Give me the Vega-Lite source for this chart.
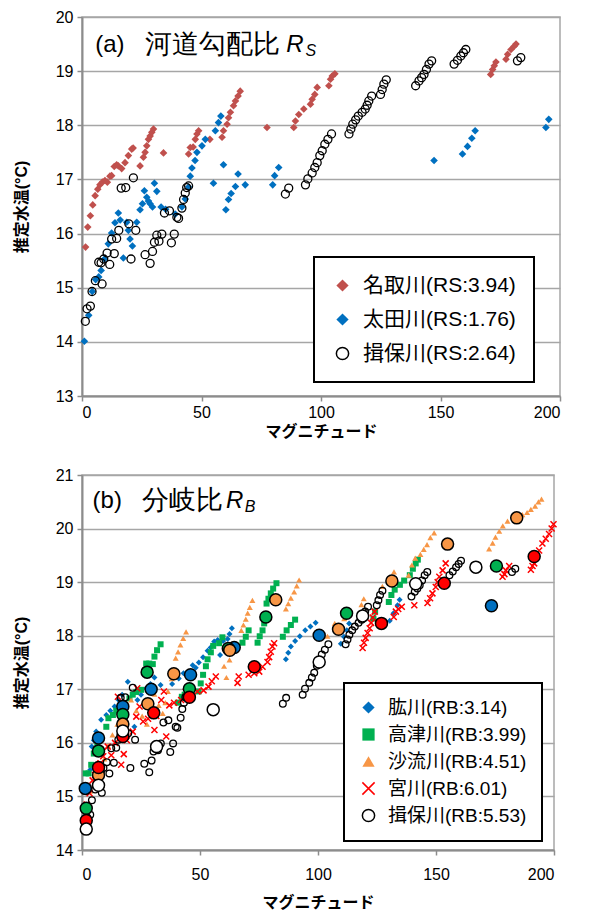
{
  "$schema": "https://vega.github.io/schema/vega-lite/v6.json",
  "padding": {"left": 12, "top": 8, "right": 10, "bottom": 0},
  "spacing": 26,
  "config": {
    "view": {"stroke": "#A6A6A6", "strokeWidth": 1.5},
    "axis": {
      "labelFont": "Liberation Sans, Noto Sans CJK JP, sans-serif",
      "titleFont": "Liberation Sans, Noto Sans CJK JP, sans-serif",
      "labelFontSize": 16, "labelColor": "black",
      "titleFontSize": 16, "titleColor": "black", "titleFontWeight": "bold",
      "domainColor": "#8C8C8C", "domainWidth": 2,
      "tickColor": "#8C8C8C", "tickWidth": 1.5, "tickSize": 5,
      "gridColor": "#A6A6A6", "gridWidth": 1.5, "labelPadding": 4
    },
    "axisX": {"grid": false, "titlePadding": 3, "labelPadding": 3},
    "axisY": {"titlePadding": 26, "format": "d"},
    "legend": {
      "labelFont": "Liberation Sans, Noto Sans CJK JP, sans-serif",
      "labelFontSize": 19, "labelColor": "black", "labelLimit": 400,
      "symbolSize": 150, "symbolStrokeWidth": 1.5,
      "strokeColor": "black", "fillColor": "white", "strokeWidth": 2,
      "labelOffset": 10
    }
  },
  "datasets": {
    "topRivers": [
      {"river": "名取川", "m": 1.5, "t": 15.75}, {"river": "名取川", "m": 2.4, "t": 16.12}, {"river": "名取川", "m": 3.5, "t": 16.33}, {"river": "名取川", "m": 4.5, "t": 16.53}, {"river": "名取川", "m": 5.5, "t": 16.7}, {"river": "名取川", "m": 6.6, "t": 16.82}, {"river": "名取川", "m": 7.5, "t": 16.9}, {"river": "名取川", "m": 8.5, "t": 16.95}, {"river": "名取川", "m": 9.6, "t": 16.98}, {"river": "名取川", "m": 10.6, "t": 16.95}, {"river": "名取川", "m": 11.7, "t": 17.06}, {"river": "名取川", "m": 12.4, "t": 17.07}, {"river": "名取川", "m": 13.5, "t": 17.24}, {"river": "名取川", "m": 14.5, "t": 17.27}, {"river": "名取川", "m": 15.2, "t": 17.25}, {"river": "名取川", "m": 16.6, "t": 17.2}, {"river": "名取川", "m": 18.0, "t": 17.31}, {"river": "名取川", "m": 19.4, "t": 17.44}, {"river": "名取川", "m": 20.8, "t": 17.56}, {"river": "名取川", "m": 21.4, "t": 17.58}, {"river": "名取川", "m": 24.3, "t": 17.25}, {"river": "名取川", "m": 25.7, "t": 17.41}, {"river": "名取川", "m": 26.4, "t": 17.5}, {"river": "名取川", "m": 27.1, "t": 17.62}, {"river": "名取川", "m": 27.8, "t": 17.74}, {"river": "名取川", "m": 28.5, "t": 17.8}, {"river": "名取川", "m": 29.2, "t": 17.87}, {"river": "名取川", "m": 29.9, "t": 17.93}, {"river": "名取川", "m": 34.1, "t": 17.49},
      {"river": "名取川", "m": 44.6, "t": 17.47}, {"river": "名取川", "m": 45.3, "t": 17.59}, {"river": "名取川", "m": 46.5, "t": 17.6}, {"river": "名取川", "m": 47.4, "t": 17.74}, {"river": "名取川", "m": 48.1, "t": 17.84}, {"river": "名取川", "m": 48.8, "t": 17.9}, {"river": "名取川", "m": 53.5, "t": 17.74}, {"river": "名取川", "m": 58.6, "t": 17.78}, {"river": "名取川", "m": 59.2, "t": 17.9}, {"river": "名取川", "m": 60.7, "t": 18.02}, {"river": "名取川", "m": 61.3, "t": 18.14}, {"river": "名取川", "m": 62.1, "t": 18.24}, {"river": "名取川", "m": 63.4, "t": 18.36}, {"river": "名取川", "m": 64.2, "t": 18.45}, {"river": "名取川", "m": 65.3, "t": 18.54}, {"river": "名取川", "m": 66.2, "t": 18.63},
      {"river": "名取川", "m": 77.4, "t": 17.96}, {"river": "名取川", "m": 88.6, "t": 17.96}, {"river": "名取川", "m": 89.3, "t": 18.08}, {"river": "名取川", "m": 90.7, "t": 18.2}, {"river": "名取川", "m": 92.8, "t": 18.3}, {"river": "名取川", "m": 95.6, "t": 18.39}, {"river": "名取川", "m": 96.3, "t": 18.48}, {"river": "名取川", "m": 97.4, "t": 18.57}, {"river": "名取川", "m": 98.4, "t": 18.7}, {"river": "名取川", "m": 103.3, "t": 18.73}, {"river": "名取川", "m": 104.0, "t": 18.85}, {"river": "名取川", "m": 104.7, "t": 18.91}, {"river": "名取川", "m": 105.8, "t": 18.95},
      {"river": "名取川", "m": 171.0, "t": 18.94}, {"river": "名取川", "m": 171.8, "t": 19.03}, {"river": "名取川", "m": 172.5, "t": 19.1}, {"river": "名取川", "m": 173.2, "t": 19.17}, {"river": "名取川", "m": 177.4, "t": 19.22}, {"river": "名取川", "m": 178.1, "t": 19.31}, {"river": "名取川", "m": 179.5, "t": 19.4}, {"river": "名取川", "m": 180.8, "t": 19.46}, {"river": "名取川", "m": 181.6, "t": 19.5},
      {"river": "太田川", "m": 1.0, "t": 14.01}, {"river": "太田川", "m": 2.8, "t": 14.49}, {"river": "太田川", "m": 4.3, "t": 14.93}, {"river": "太田川", "m": 5.7, "t": 15.15}, {"river": "太田川", "m": 7.0, "t": 15.2}, {"river": "太田川", "m": 8.0, "t": 15.32}, {"river": "太田川", "m": 9.4, "t": 15.53}, {"river": "太田川", "m": 11.0, "t": 15.81}, {"river": "太田川", "m": 12.4, "t": 16.01}, {"river": "太田川", "m": 13.8, "t": 16.2}, {"river": "太田川", "m": 15.2, "t": 16.38}, {"river": "太田川", "m": 16.0, "t": 16.25}, {"river": "太田川", "m": 17.3, "t": 15.55}, {"river": "太田川", "m": 18.7, "t": 16.21}, {"river": "太田川", "m": 19.4, "t": 16.06}, {"river": "太田川", "m": 20.1, "t": 15.9}, {"river": "太田川", "m": 21.1, "t": 15.77}, {"river": "太田川", "m": 22.9, "t": 16.21}, {"river": "太田川", "m": 24.3, "t": 16.44}, {"river": "太田川", "m": 25.3, "t": 16.55}, {"river": "太田川", "m": 26.1, "t": 16.79}, {"river": "太田川", "m": 27.1, "t": 16.67}, {"river": "太田川", "m": 27.8, "t": 16.6}, {"river": "太田川", "m": 28.5, "t": 16.55}, {"river": "太田川", "m": 29.5, "t": 16.49}, {"river": "太田川", "m": 30.3, "t": 16.93}, {"river": "太田川", "m": 31.3, "t": 16.78}, {"river": "太田川", "m": 33.1, "t": 16.49}, {"river": "太田川", "m": 35.0, "t": 16.45}, {"river": "太田川", "m": 39.0, "t": 16.36}, {"river": "太田川", "m": 41.8, "t": 16.49}, {"river": "太田川", "m": 43.2, "t": 16.64}, {"river": "太田川", "m": 44.6, "t": 16.86}, {"river": "太田川", "m": 45.3, "t": 17.06}, {"river": "太田川", "m": 46.0, "t": 17.21}, {"river": "太田川", "m": 47.3, "t": 17.35}, {"river": "太田川", "m": 48.1, "t": 17.5}, {"river": "太田川", "m": 50.2, "t": 17.62}, {"river": "太田川", "m": 51.6, "t": 17.74}, {"river": "太田川", "m": 55.0, "t": 16.93}, {"river": "太田川", "m": 55.8, "t": 17.9}, {"river": "太田川", "m": 57.1, "t": 18.05}, {"river": "太田川", "m": 58.1, "t": 18.17}, {"river": "太田川", "m": 59.2, "t": 17.27}, {"river": "太田川", "m": 60.2, "t": 16.44}, {"river": "太田川", "m": 61.3, "t": 16.63}, {"river": "太田川", "m": 62.4, "t": 16.74}, {"river": "太田川", "m": 64.2, "t": 16.87}, {"river": "太田川", "m": 65.3, "t": 17.1}, {"river": "太田川", "m": 68.3, "t": 16.9}, {"river": "太田川", "m": 79.8, "t": 16.9}, {"river": "太田川", "m": 80.6, "t": 17.07}, {"river": "太田川", "m": 82.3, "t": 17.22}, {"river": "太田川", "m": 147.3, "t": 17.35}, {"river": "太田川", "m": 159.2, "t": 17.47}, {"river": "太田川", "m": 161.3, "t": 17.61}, {"river": "太田川", "m": 163.1, "t": 17.76}, {"river": "太田川", "m": 164.5, "t": 17.9}, {"river": "太田川", "m": 194.1, "t": 17.96}, {"river": "太田川", "m": 195.3, "t": 18.11}
    ],
    "ibo": [
      {"river": "揖保川", "m": 1.4, "t": 14.38}, {"river": "揖保川", "m": 2.1, "t": 14.61}, {"river": "揖保川", "m": 3.5, "t": 14.66}, {"river": "揖保川", "m": 4.2, "t": 14.93}, {"river": "揖保川", "m": 5.6, "t": 15.13}, {"river": "揖保川", "m": 7.0, "t": 15.47}, {"river": "揖保川", "m": 8.4, "t": 15.07}, {"river": "揖保川", "m": 8.0, "t": 15.46}, {"river": "揖保川", "m": 9.1, "t": 15.53}, {"river": "揖保川", "m": 10.5, "t": 15.64}, {"river": "揖保川", "m": 11.6, "t": 15.43}, {"river": "揖保川", "m": 12.4, "t": 15.9}, {"river": "揖保川", "m": 13.5, "t": 15.63}, {"river": "揖保川", "m": 14.5, "t": 15.91}, {"river": "揖保川", "m": 15.4, "t": 16.06}, {"river": "揖保川", "m": 16.4, "t": 16.84}, {"river": "揖保川", "m": 18.3, "t": 16.85}, {"river": "揖保川", "m": 19.6, "t": 16.18}, {"river": "揖保川", "m": 20.5, "t": 15.53}, {"river": "揖保川", "m": 21.5, "t": 17.03}, {"river": "揖保川", "m": 22.5, "t": 16.06}, {"river": "揖保川", "m": 26.4, "t": 15.61}, {"river": "揖保川", "m": 28.5, "t": 15.45}, {"river": "揖保川", "m": 29.5, "t": 15.67}, {"river": "揖保川", "m": 30.3, "t": 15.84}, {"river": "揖保川", "m": 31.3, "t": 15.97}, {"river": "揖保川", "m": 32.2, "t": 15.86}, {"river": "揖保川", "m": 33.4, "t": 15.99}, {"river": "揖保川", "m": 34.5, "t": 16.38}, {"river": "揖保川", "m": 36.6, "t": 16.42}, {"river": "揖保川", "m": 37.4, "t": 15.83}, {"river": "揖保川", "m": 38.6, "t": 15.99}, {"river": "揖保川", "m": 39.7, "t": 16.3}, {"river": "揖保川", "m": 40.4, "t": 16.28}, {"river": "揖保川", "m": 41.8, "t": 16.47}, {"river": "揖保川", "m": 42.5, "t": 16.63}, {"river": "揖保川", "m": 43.2, "t": 16.75}, {"river": "揖保川", "m": 43.8, "t": 16.85}, {"river": "揖保川", "m": 44.6, "t": 16.88},
      {"river": "揖保川", "m": 85.1, "t": 16.73}, {"river": "揖保川", "m": 86.5, "t": 16.84}, {"river": "揖保川", "m": 93.5, "t": 16.9}, {"river": "揖保川", "m": 94.5, "t": 17.01}, {"river": "揖保川", "m": 96.3, "t": 17.12}, {"river": "揖保川", "m": 97.4, "t": 17.22}, {"river": "揖保川", "m": 98.4, "t": 17.31}, {"river": "揖保川", "m": 99.5, "t": 17.44}, {"river": "揖保川", "m": 100.5, "t": 17.53}, {"river": "揖保川", "m": 101.6, "t": 17.65}, {"river": "揖保川", "m": 102.9, "t": 17.74}, {"river": "揖保川", "m": 104.4, "t": 17.84},
      {"river": "揖保川", "m": 111.7, "t": 17.84}, {"river": "揖保川", "m": 112.5, "t": 17.93}, {"river": "揖保川", "m": 113.3, "t": 18.02}, {"river": "揖保川", "m": 114.5, "t": 18.1}, {"river": "揖保川", "m": 115.6, "t": 18.17}, {"river": "揖保川", "m": 117.2, "t": 18.24}, {"river": "揖保川", "m": 118.5, "t": 18.3}, {"river": "揖保川", "m": 119.3, "t": 18.37}, {"river": "揖保川", "m": 120.0, "t": 18.45}, {"river": "揖保川", "m": 121.2, "t": 18.54}, {"river": "揖保川", "m": 124.9, "t": 18.57}, {"river": "揖保川", "m": 125.6, "t": 18.66}, {"river": "揖保川", "m": 126.3, "t": 18.76}, {"river": "揖保川", "m": 127.3, "t": 18.84},
      {"river": "揖保川", "m": 139.6, "t": 18.73}, {"river": "揖保川", "m": 141.0, "t": 18.82}, {"river": "揖保川", "m": 142.1, "t": 18.88}, {"river": "揖保川", "m": 143.1, "t": 18.94}, {"river": "揖保川", "m": 144.1, "t": 19.03}, {"river": "揖保川", "m": 145.2, "t": 19.13}, {"river": "揖保川", "m": 146.3, "t": 19.19}, {"river": "揖保川", "m": 155.7, "t": 19.13}, {"river": "揖保川", "m": 157.1, "t": 19.2}, {"river": "揖保川", "m": 158.5, "t": 19.28}, {"river": "揖保川", "m": 159.6, "t": 19.34}, {"river": "揖保川", "m": 160.6, "t": 19.4}, {"river": "揖保川", "m": 182.2, "t": 19.19}, {"river": "揖保川", "m": 183.6, "t": 19.25}
    ],
    "bottomRivers": [
      {"river": "肱川", "m": 3.5, "t": 15.5}, {"river": "肱川", "m": 4.1, "t": 15.93}, {"river": "肱川", "m": 5.0, "t": 16.05}, {"river": "肱川", "m": 6.0, "t": 16.21}, {"river": "肱川", "m": 8.1, "t": 16.43}, {"river": "肱川", "m": 10.3, "t": 16.52}, {"river": "肱川", "m": 12.0, "t": 16.6}, {"river": "肱川", "m": 13.8, "t": 16.68}, {"river": "肱川", "m": 15.5, "t": 16.8}, {"river": "肱川", "m": 17.0, "t": 16.9}, {"river": "肱川", "m": 19.4, "t": 17.14}, {"river": "肱川", "m": 22.2, "t": 16.3}, {"river": "肱川", "m": 23.5, "t": 16.8}, {"river": "肱川", "m": 25.0, "t": 16.9}, {"river": "肱川", "m": 27.2, "t": 17.02}, {"river": "肱川", "m": 29.0, "t": 17.1}, {"river": "肱川", "m": 30.7, "t": 17.22}, {"river": "肱川", "m": 33.3, "t": 17.08}, {"river": "肱川", "m": 38.2, "t": 17.1}, {"river": "肱川", "m": 41.0, "t": 17.2}, {"river": "肱川", "m": 43.0, "t": 17.3}, {"river": "肱川", "m": 46.9, "t": 17.45}, {"river": "肱川", "m": 48.2, "t": 17.4}, {"river": "肱川", "m": 49.5, "t": 17.5}, {"river": "肱川", "m": 51.3, "t": 17.6}, {"river": "肱川", "m": 53.2, "t": 17.72}, {"river": "肱川", "m": 54.5, "t": 17.78}, {"river": "肱川", "m": 56.0, "t": 17.89}, {"river": "肱川", "m": 57.5, "t": 17.92}, {"river": "肱川", "m": 58.5, "t": 17.64}, {"river": "肱川", "m": 59.8, "t": 17.9}, {"river": "肱川", "m": 61.7, "t": 17.94}, {"river": "肱川", "m": 62.5, "t": 18.03}, {"river": "肱川", "m": 63.5, "t": 18.14}, {"river": "肱川", "m": 86.4, "t": 17.56}, {"river": "肱川", "m": 87.4, "t": 17.68}, {"river": "肱川", "m": 88.5, "t": 17.8}, {"river": "肱川", "m": 90.3, "t": 17.9}, {"river": "肱川", "m": 92.3, "t": 17.99}, {"river": "肱川", "m": 94.6, "t": 18.1}, {"river": "肱川", "m": 96.8, "t": 18.17}, {"river": "肱川", "m": 99.0, "t": 18.24}, {"river": "肱川", "m": 109.7, "t": 17.85}, {"river": "肱川", "m": 111.0, "t": 17.98}, {"river": "肱川", "m": 112.2, "t": 18.1}, {"river": "肱川", "m": 113.2, "t": 18.23}, {"river": "肱川", "m": 130.4, "t": 18.28}, {"river": "肱川", "m": 132.0, "t": 18.42}, {"river": "肱川", "m": 133.7, "t": 18.57}, {"river": "肱川", "m": 134.6, "t": 18.67},
      {"river": "高津川", "m": 1.6, "t": 15.43}, {"river": "高津川", "m": 2.8, "t": 15.43}, {"river": "高津川", "m": 3.9, "t": 15.59}, {"river": "高津川", "m": 5.0, "t": 15.8}, {"river": "高津川", "m": 6.5, "t": 16.0}, {"river": "高津川", "m": 10.3, "t": 16.3}, {"river": "高津川", "m": 11.2, "t": 16.46}, {"river": "高津川", "m": 13.1, "t": 16.52}, {"river": "高津川", "m": 14.5, "t": 16.6}, {"river": "高津川", "m": 20.1, "t": 16.83}, {"river": "高津川", "m": 21.5, "t": 16.9}, {"river": "高津川", "m": 23.0, "t": 16.95}, {"river": "高津川", "m": 25.1, "t": 16.99}, {"river": "高津川", "m": 27.2, "t": 17.48}, {"river": "高津川", "m": 28.5, "t": 17.48}, {"river": "高津川", "m": 30.0, "t": 17.47}, {"river": "高津川", "m": 30.7, "t": 17.61}, {"river": "高津川", "m": 31.8, "t": 17.73}, {"river": "高津川", "m": 33.3, "t": 17.84}, {"river": "高津川", "m": 40.6, "t": 16.75}, {"river": "高津川", "m": 42.3, "t": 16.86}, {"river": "高津川", "m": 43.5, "t": 16.9}, {"river": "高津川", "m": 49.4, "t": 16.96}, {"river": "高津川", "m": 50.3, "t": 17.11}, {"river": "高津川", "m": 51.3, "t": 17.27}, {"river": "高津川", "m": 52.5, "t": 17.43}, {"river": "高津川", "m": 53.2, "t": 17.56}, {"river": "高津川", "m": 54.6, "t": 17.69}, {"river": "高津川", "m": 55.6, "t": 17.81}, {"river": "高津川", "m": 58.1, "t": 17.86}, {"river": "高津川", "m": 59.5, "t": 17.97}, {"river": "高津川", "m": 68.0, "t": 17.87}, {"river": "高津川", "m": 69.4, "t": 17.98}, {"river": "高津川", "m": 70.6, "t": 18.1}, {"river": "高津川", "m": 74.4, "t": 17.87}, {"river": "高津川", "m": 75.3, "t": 17.99}, {"river": "高津川", "m": 76.5, "t": 18.1}, {"river": "高津川", "m": 77.2, "t": 18.23}, {"river": "高津川", "m": 78.2, "t": 18.6}, {"river": "高津川", "m": 79.0, "t": 18.69}, {"river": "高津川", "m": 80.0, "t": 18.79}, {"river": "高津川", "m": 81.0, "t": 18.88}, {"river": "高津川", "m": 82.4, "t": 18.98}, {"river": "高津川", "m": 85.1, "t": 17.98}, {"river": "高津川", "m": 86.7, "t": 18.1}, {"river": "高津川", "m": 88.5, "t": 18.2}, {"river": "高津川", "m": 90.3, "t": 18.3}, {"river": "高津川", "m": 123.5, "t": 18.32}, {"river": "高津川", "m": 124.2, "t": 18.45}, {"river": "高津川", "m": 130.0, "t": 18.63}, {"river": "高津川", "m": 131.1, "t": 18.76}, {"river": "高津川", "m": 132.5, "t": 18.86}, {"river": "高津川", "m": 134.7, "t": 18.95}, {"river": "高津川", "m": 136.5, "t": 19.03}, {"river": "高津川", "m": 138.9, "t": 19.13}, {"river": "高津川", "m": 140.2, "t": 19.25}, {"river": "高津川", "m": 141.4, "t": 19.35}, {"river": "高津川", "m": 142.3, "t": 19.42},
      {"river": "沙流川", "m": 3.5, "t": 15.1}, {"river": "沙流川", "m": 5.5, "t": 15.3}, {"river": "沙流川", "m": 7.8, "t": 15.27}, {"river": "沙流川", "m": 9.5, "t": 15.7}, {"river": "沙流川", "m": 11.0, "t": 15.95}, {"river": "沙流川", "m": 12.9, "t": 16.15}, {"river": "沙流川", "m": 15.0, "t": 16.35}, {"river": "沙流川", "m": 20.8, "t": 16.8}, {"river": "沙流川", "m": 23.0, "t": 16.6}, {"river": "沙流川", "m": 25.5, "t": 16.5}, {"river": "沙流川", "m": 27.5, "t": 16.35}, {"river": "沙流川", "m": 30.7, "t": 16.91}, {"river": "沙流川", "m": 32.5, "t": 16.7}, {"river": "沙流川", "m": 34.2, "t": 16.55}, {"river": "沙流川", "m": 35.3, "t": 16.75}, {"river": "沙流川", "m": 36.4, "t": 16.96}, {"river": "沙流川", "m": 38.0, "t": 17.2}, {"river": "沙流川", "m": 39.7, "t": 17.58}, {"river": "沙流川", "m": 40.7, "t": 17.7}, {"river": "沙流川", "m": 41.7, "t": 17.83}, {"river": "沙流川", "m": 42.9, "t": 17.95}, {"river": "沙流川", "m": 44.1, "t": 18.07}, {"river": "沙流川", "m": 60.2, "t": 17.43}, {"river": "沙流川", "m": 61.2, "t": 17.22}, {"river": "沙流川", "m": 62.5, "t": 17.55}, {"river": "沙流川", "m": 67.5, "t": 18.1}, {"river": "沙流川", "m": 68.4, "t": 18.2}, {"river": "沙流川", "m": 69.4, "t": 18.31}, {"river": "沙流川", "m": 70.2, "t": 18.42}, {"river": "沙流川", "m": 71.1, "t": 18.53}, {"river": "沙流川", "m": 72.2, "t": 18.66}, {"river": "沙流川", "m": 86.4, "t": 18.5}, {"river": "沙流川", "m": 87.4, "t": 18.6}, {"river": "沙流川", "m": 88.5, "t": 18.7}, {"river": "沙流川", "m": 89.9, "t": 18.82}, {"river": "沙流川", "m": 91.0, "t": 18.93}, {"river": "沙流川", "m": 92.0, "t": 19.04}, {"river": "沙流川", "m": 104.0, "t": 17.99}, {"river": "沙流川", "m": 107.1, "t": 18.23}, {"river": "沙流川", "m": 111.1, "t": 18.32}, {"river": "沙流川", "m": 118.4, "t": 18.58}, {"river": "沙流川", "m": 119.4, "t": 18.69}, {"river": "沙流川", "m": 127.3, "t": 18.92}, {"river": "沙流川", "m": 132.2, "t": 19.19}, {"river": "沙流川", "m": 138.4, "t": 19.13}, {"river": "沙流川", "m": 139.8, "t": 19.32}, {"river": "沙流川", "m": 141.2, "t": 19.45}, {"river": "沙流川", "m": 143.4, "t": 19.52}, {"river": "沙流川", "m": 144.8, "t": 19.61}, {"river": "沙流川", "m": 146.2, "t": 19.7}, {"river": "沙流川", "m": 147.6, "t": 19.83}, {"river": "沙流川", "m": 149.2, "t": 19.92}, {"river": "沙流川", "m": 172.5, "t": 19.62}, {"river": "沙流川", "m": 174.0, "t": 19.73}, {"river": "沙流川", "m": 175.2, "t": 19.84}, {"river": "沙流川", "m": 176.8, "t": 19.95}, {"river": "沙流川", "m": 178.3, "t": 20.05}, {"river": "沙流川", "m": 180.3, "t": 20.14}, {"river": "沙流川", "m": 186.6, "t": 20.26}, {"river": "沙流川", "m": 188.6, "t": 20.3}, {"river": "沙流川", "m": 190.2, "t": 20.36}, {"river": "沙流川", "m": 192.0, "t": 20.42}, {"river": "沙流川", "m": 193.4, "t": 20.5}, {"river": "沙流川", "m": 194.7, "t": 20.55},
      {"river": "宮川", "m": 2.0, "t": 14.85}, {"river": "宮川", "m": 3.2, "t": 15.06}, {"river": "宮川", "m": 4.5, "t": 15.3}, {"river": "宮川", "m": 5.5, "t": 15.4}, {"river": "宮川", "m": 7.8, "t": 15.62}, {"river": "宮川", "m": 9.0, "t": 15.75}, {"river": "宮川", "m": 10.9, "t": 15.93}, {"river": "宮川", "m": 12.4, "t": 15.77}, {"river": "宮川", "m": 14.0, "t": 16.0}, {"river": "宮川", "m": 15.2, "t": 16.86}, {"river": "宮川", "m": 16.6, "t": 15.59}, {"river": "宮川", "m": 17.7, "t": 15.79}, {"river": "宮川", "m": 19.0, "t": 16.05}, {"river": "宮川", "m": 21.5, "t": 16.21}, {"river": "宮川", "m": 23.0, "t": 16.49}, {"river": "宮川", "m": 23.4, "t": 17.02}, {"river": "宮川", "m": 24.4, "t": 16.68}, {"river": "宮川", "m": 25.9, "t": 16.4}, {"river": "宮川", "m": 28.0, "t": 16.45}, {"river": "宮川", "m": 30.7, "t": 16.24}, {"river": "宮川", "m": 31.5, "t": 16.5}, {"river": "宮川", "m": 33.6, "t": 16.8}, {"river": "宮川", "m": 34.7, "t": 16.96}, {"river": "宮川", "m": 35.7, "t": 16.12}, {"river": "宮川", "m": 37.0, "t": 16.7}, {"river": "宮川", "m": 39.0, "t": 16.75}, {"river": "宮川", "m": 42.0, "t": 16.8}, {"river": "宮川", "m": 44.0, "t": 16.95}, {"river": "宮川", "m": 48.9, "t": 16.96}, {"river": "宮川", "m": 51.5, "t": 16.98}, {"river": "宮川", "m": 53.6, "t": 17.05}, {"river": "宮川", "m": 55.0, "t": 17.15}, {"river": "宮川", "m": 56.7, "t": 17.24}, {"river": "宮川", "m": 65.9, "t": 17.12}, {"river": "宮川", "m": 66.4, "t": 17.24}, {"river": "宮川", "m": 70.6, "t": 17.27}, {"river": "宮川", "m": 73.0, "t": 17.3}, {"river": "宮川", "m": 75.1, "t": 17.33}, {"river": "宮川", "m": 76.5, "t": 17.42}, {"river": "宮川", "m": 78.6, "t": 17.51}, {"river": "宮川", "m": 79.3, "t": 17.6}, {"river": "宮川", "m": 80.0, "t": 17.7}, {"river": "宮川", "m": 80.7, "t": 17.8}, {"river": "宮川", "m": 81.4, "t": 17.86}, {"river": "宮川", "m": 118.9, "t": 17.77}, {"river": "宮川", "m": 119.5, "t": 17.87}, {"river": "宮川", "m": 120.2, "t": 17.96}, {"river": "宮川", "m": 121.0, "t": 18.05}, {"river": "宮川", "m": 121.9, "t": 18.14}, {"river": "宮川", "m": 122.5, "t": 18.24}, {"river": "宮川", "m": 123.2, "t": 18.34}, {"river": "宮川", "m": 124.0, "t": 18.45}, {"river": "宮川", "m": 132.1, "t": 18.35}, {"river": "宮川", "m": 133.0, "t": 18.45}, {"river": "宮川", "m": 134.0, "t": 18.5}, {"river": "宮川", "m": 135.5, "t": 18.54}, {"river": "宮川", "m": 140.8, "t": 18.57}, {"river": "宮川", "m": 146.4, "t": 18.61}, {"river": "宮川", "m": 147.5, "t": 18.7}, {"river": "宮川", "m": 148.5, "t": 18.79}, {"river": "宮川", "m": 149.9, "t": 18.91}, {"river": "宮川", "m": 150.7, "t": 19.0}, {"river": "宮川", "m": 151.4, "t": 19.1}, {"river": "宮川", "m": 152.8, "t": 19.22}, {"river": "宮川", "m": 154.1, "t": 19.35}, {"river": "宮川", "m": 178.2, "t": 19.1}, {"river": "宮川", "m": 179.0, "t": 19.15}, {"river": "宮川", "m": 179.6, "t": 19.22}, {"river": "宮川", "m": 181.0, "t": 19.3}, {"river": "宮川", "m": 190.2, "t": 19.23}, {"river": "宮川", "m": 190.9, "t": 19.3}, {"river": "宮川", "m": 191.6, "t": 19.35}, {"river": "宮川", "m": 192.5, "t": 19.47}, {"river": "宮川", "m": 193.7, "t": 19.59}, {"river": "宮川", "m": 195.1, "t": 19.72}, {"river": "宮川", "m": 196.5, "t": 19.81}, {"river": "宮川", "m": 197.9, "t": 19.9}, {"river": "宮川", "m": 199.0, "t": 20.0}, {"river": "宮川", "m": 199.8, "t": 20.08}
    ],
    "big": [
      {"river": "肱川", "m": 1.4, "t": 15.15}, {"river": "肱川", "m": 7.0, "t": 16.09}, {"river": "肱川", "m": 17.3, "t": 16.68}, {"river": "肱川", "m": 29.3, "t": 17.0}, {"river": "肱川", "m": 46.0, "t": 17.27}, {"river": "肱川", "m": 64.5, "t": 17.78}, {"river": "肱川", "m": 100.5, "t": 18.01}, {"river": "肱川", "m": 173.5, "t": 18.56},
      {"river": "高津川", "m": 1.8, "t": 14.78}, {"river": "高津川", "m": 7.0, "t": 15.85}, {"river": "高津川", "m": 17.3, "t": 16.53}, {"river": "高津川", "m": 27.6, "t": 17.32}, {"river": "高津川", "m": 45.5, "t": 17.01}, {"river": "高津川", "m": 62.0, "t": 17.76}, {"river": "高津川", "m": 77.9, "t": 18.35}, {"river": "高津川", "m": 112.1, "t": 18.42}, {"river": "高津川", "m": 175.6, "t": 19.3},
      {"river": "沙流川", "m": 7.0, "t": 15.4}, {"river": "沙流川", "m": 17.3, "t": 16.35}, {"river": "沙流川", "m": 27.9, "t": 16.73}, {"river": "沙流川", "m": 38.9, "t": 17.29}, {"river": "沙流川", "m": 62.6, "t": 17.73}, {"river": "沙流川", "m": 82.1, "t": 18.67}, {"river": "沙流川", "m": 108.7, "t": 18.12}, {"river": "沙流川", "m": 131.3, "t": 19.02}, {"river": "沙流川", "m": 154.9, "t": 19.71}, {"river": "沙流川", "m": 184.2, "t": 20.2},
      {"river": "宮川", "m": 1.8, "t": 14.55}, {"river": "宮川", "m": 7.0, "t": 15.54}, {"river": "宮川", "m": 17.3, "t": 16.12}, {"river": "宮川", "m": 30.4, "t": 16.56}, {"river": "宮川", "m": 45.5, "t": 16.85}, {"river": "宮川", "m": 73.0, "t": 17.42}, {"river": "宮川", "m": 126.9, "t": 18.23}, {"river": "宮川", "m": 153.5, "t": 18.98}, {"river": "宮川", "m": 191.6, "t": 19.48},
      {"river": "揖保川", "m": 1.8, "t": 14.39}, {"river": "揖保川", "m": 7.0, "t": 15.21}, {"river": "揖保川", "m": 17.3, "t": 16.22}, {"river": "揖保川", "m": 31.6, "t": 15.93}, {"river": "揖保川", "m": 55.6, "t": 16.62}, {"river": "揖保川", "m": 100.5, "t": 17.51}, {"river": "揖保川", "m": 118.9, "t": 18.37}, {"river": "揖保川", "m": 141.4, "t": 18.97}, {"river": "揖保川", "m": 166.9, "t": 19.28}
    ]
  },
  "vconcat": [
    {
      "width": 478,
      "height": 379,
      "layer": [
        {
          "data": {"name": "topRivers"},
          "mark": {"type": "point", "opacity": 1, "strokeWidth": 1.3, "size": 58},
          "encoding": {
            "x": {"field": "m", "type": "quantitative", "title": "マグニチュード", "scale": {"domain": [0, 200], "nice": false}, "axis": {"values": [0, 50, 100, 150, 200]}},
            "y": {"field": "t", "type": "quantitative", "title": "推定水温(°C)", "scale": {"domain": [13, 20], "nice": false, "zero": false}, "axis": {"values": [13, 14, 15, 16, 17, 18, 19, 20]}},
            "shape": {"field": "river", "type": "nominal", "scale": {"domain": ["名取川", "太田川", "揖保川"], "range": ["diamond", "diamond", "circle"]},
              "legend": {"orient": "none", "legendX": 232, "legendY": 240, "title": null, "padding": 18, "rowPadding": 12, "labelFontSize": 21, "labelExpr": "datum.label == '名取川' ? '名取川(RS:3.94)' : datum.label == '太田川' ? '太田川(RS:1.76)' : '揖保川(RS:2.64)'"}},
            "fill": {"field": "river", "type": "nominal", "scale": {"domain": ["名取川", "太田川", "揖保川"], "range": ["#C0504D", "#0070C0", "transparent"]}, "legend": {"orient": "none", "legendX": 232, "legendY": 240, "title": null, "padding": 18, "rowPadding": 12, "labelFontSize": 21, "labelExpr": "datum.label == '名取川' ? '名取川(RS:3.94)' : datum.label == '太田川' ? '太田川(RS:1.76)' : '揖保川(RS:2.64)'"}},
            "stroke": {"field": "river", "type": "nominal", "scale": {"domain": ["名取川", "太田川", "揖保川"], "range": ["transparent", "transparent", "black"]}, "legend": {"orient": "none", "legendX": 232, "legendY": 240, "title": null, "padding": 18, "rowPadding": 12, "labelFontSize": 21, "labelExpr": "datum.label == '名取川' ? '名取川(RS:3.94)' : datum.label == '太田川' ? '太田川(RS:1.76)' : '揖保川(RS:2.64)'"}}
          }
        },
        {
          "data": {"name": "ibo"},
          "mark": {"type": "point", "opacity": 1, "strokeWidth": 1.3, "size": 64},
          "encoding": {
            "x": {"field": "m", "type": "quantitative"},
            "y": {"field": "t", "type": "quantitative"},
            "shape": {"field": "river", "type": "nominal", "legend": null},
            "fill": {"field": "river", "type": "nominal", "legend": null},
            "stroke": {"field": "river", "type": "nominal", "legend": null}
          }
        },
        {"data": {"values": [{"a": 1}]}, "mark": {"type": "text", "align": "left", "baseline": "middle", "fontSize": 24}, "encoding": {"x": {"datum": 5.5}, "y": {"datum": 19.48}, "text": {"value": "(a)"}}},
        {"data": {"values": [{"a": 1}]}, "mark": {"type": "text", "align": "left", "baseline": "middle", "fontSize": 27}, "encoding": {"x": {"datum": 26.5}, "y": {"datum": 19.48}, "text": {"value": "河道勾配比"}}},
        {"data": {"values": [{"a": 1}]}, "mark": {"type": "text", "align": "left", "baseline": "middle", "fontSize": 24, "fontStyle": "italic"}, "encoding": {"x": {"datum": 85.5}, "y": {"datum": 19.48}, "text": {"value": "R"}}},
        {"data": {"values": [{"a": 1}]}, "mark": {"type": "text", "align": "left", "baseline": "middle", "fontSize": 16, "fontStyle": "italic", "dy": 6}, "encoding": {"x": {"datum": 93.5}, "y": {"datum": 19.48}, "text": {"value": "S"}}}
      ]
    },
    {
      "width": 472,
      "height": 375,
      "layer": [
        {
          "data": {"name": "bottomRivers"},
          "mark": {"type": "point", "opacity": 1, "strokeWidth": 1.5, "size": 36},
          "encoding": {
            "x": {"field": "m", "type": "quantitative", "title": "マグニチュード", "scale": {"domain": [0, 200], "nice": false}, "axis": {"values": [0, 50, 100, 150, 200], "labelPadding": 11, "titlePadding": 12}},
            "y": {"field": "t", "type": "quantitative", "title": "推定水温(°C)", "scale": {"domain": [14, 21], "nice": false, "zero": false}, "axis": {"values": [14, 15, 16, 17, 18, 19, 20, 21]}},
            "shape": {"field": "river", "type": "nominal", "scale": {"domain": ["肱川", "高津川", "沙流川", "宮川", "揖保川"], "range": ["diamond", "square", "triangle-up", "M-1,-1L1,1M1,-1L-1,1", "circle"]},
              "legend": {"orient": "none", "legendX": 262, "legendY": 208, "title": null, "padding": 15, "rowPadding": 7, "labelExpr": "datum.label == '肱川' ? '肱川(RB:3.14)' : datum.label == '高津川' ? '高津川(RB:3.99)' : datum.label == '沙流川' ? '沙流川(RB:4.51)' : datum.label == '宮川' ? '宮川(RB:6.01)' : '揖保川(RB:5.53)'"}},
            "fill": {"field": "river", "type": "nominal", "scale": {"domain": ["肱川", "高津川", "沙流川", "宮川", "揖保川"], "range": ["#0070C0", "#00B050", "#F79646", "transparent", "transparent"]},
              "legend": {"orient": "none", "legendX": 262, "legendY": 208, "title": null, "padding": 15, "rowPadding": 7, "labelExpr": "datum.label == '肱川' ? '肱川(RB:3.14)' : datum.label == '高津川' ? '高津川(RB:3.99)' : datum.label == '沙流川' ? '沙流川(RB:4.51)' : datum.label == '宮川' ? '宮川(RB:6.01)' : '揖保川(RB:5.53)'"}},
            "stroke": {"field": "river", "type": "nominal", "scale": {"domain": ["肱川", "高津川", "沙流川", "宮川", "揖保川"], "range": ["transparent", "transparent", "transparent", "#FF0000", "black"]},
              "legend": {"orient": "none", "legendX": 262, "legendY": 208, "title": null, "padding": 15, "rowPadding": 7, "labelExpr": "datum.label == '肱川' ? '肱川(RB:3.14)' : datum.label == '高津川' ? '高津川(RB:3.99)' : datum.label == '沙流川' ? '沙流川(RB:4.51)' : datum.label == '宮川' ? '宮川(RB:6.01)' : '揖保川(RB:5.53)'"}}
          }
        },
        {
          "data": {"name": "ibo"},
          "mark": {"type": "point", "opacity": 1, "strokeWidth": 1.3, "size": 45},
          "encoding": {
            "x": {"field": "m", "type": "quantitative"},
            "y": {"field": "t", "type": "quantitative"},
            "shape": {"field": "river", "type": "nominal", "legend": null},
            "fill": {"field": "river", "type": "nominal", "legend": null},
            "stroke": {"field": "river", "type": "nominal", "legend": null}
          }
        },
        {
          "data": {"name": "big"},
          "mark": {"type": "point", "shape": "circle", "filled": true, "opacity": 1, "size": 144, "stroke": "black", "strokeWidth": 1.5},
          "encoding": {
            "x": {"field": "m", "type": "quantitative"},
            "y": {"field": "t", "type": "quantitative"},
            "color": {"field": "river", "type": "nominal", "scale": {"domain": ["肱川", "高津川", "沙流川", "宮川", "揖保川"], "range": ["#0070C0", "#00B050", "#F79646", "#FF0000", "white"]}, "legend": null}
          }
        },
        {"data": {"values": [{"a": 1}]}, "mark": {"type": "text", "align": "left", "baseline": "middle", "fontSize": 24}, "encoding": {"x": {"datum": 4.5}, "y": {"datum": 20.52}, "text": {"value": "(b)"}}},
        {"data": {"values": [{"a": 1}]}, "mark": {"type": "text", "align": "left", "baseline": "middle", "fontSize": 27}, "encoding": {"x": {"datum": 25.5}, "y": {"datum": 20.52}, "text": {"value": "分岐比"}}},
        {"data": {"values": [{"a": 1}]}, "mark": {"type": "text", "align": "left", "baseline": "middle", "fontSize": 24, "fontStyle": "italic"}, "encoding": {"x": {"datum": 61.0}, "y": {"datum": 20.52}, "text": {"value": "R"}}},
        {"data": {"values": [{"a": 1}]}, "mark": {"type": "text", "align": "left", "baseline": "middle", "fontSize": 16, "fontStyle": "italic", "dy": 6}, "encoding": {"x": {"datum": 69.0}, "y": {"datum": 20.52}, "text": {"value": "B"}}}
      ]
    }
  ],
  "resolve": {
    "scale": {"x": "independent", "y": "independent", "shape": "independent", "fill": "independent", "stroke": "independent", "color": "independent"},
    "legend": {"shape": "independent", "fill": "independent", "stroke": "independent"}
  }
}
